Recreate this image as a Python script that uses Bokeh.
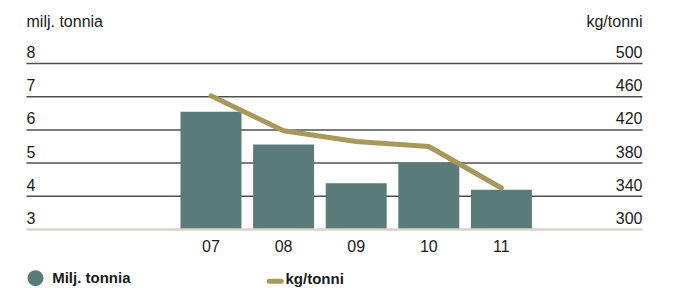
from bokeh.plotting import figure
from bokeh.models import Range1d
from bokeh.embed import file_html
from bokeh.resources import INLINE
from bokeh.core.properties import value

# ---- data ----
years = ["07", "08", "09", "10", "11"]
tonnes = [6.55, 5.56, 4.39, 5.0, 4.2]          # milj. tonnia (left axis)
kg_per_t = [461, 419, 406, 400, 350]            # kg/tonni (right axis)
left_ticks = [3, 4, 5, 6, 7, 8]
right_ticks = [300, 340, 380, 420, 460, 500]
left_title = "milj. tonnia"
right_title = "kg/tonni"
legend_bar = "Milj. tonnia"
legend_line = "kg/tonni"

# ---- layout (figure pixels) ----
W, H = 674, 288
X0_PX, X_STEP = 210.5, 72.6        # px of first category, px per category
Y3_PX, Y_UNIT = 229.0, 33.2        # px of value 3, px per unit
PLOT_L, PLOT_R = 26, 642
FS_N, FS_B = 16, 15
SHIFT_N = -0.37 * FS_N             # baseline correction for rendered text
SHIFT_B = -0.37 * FS_B

def px2x(fx):
    return (fx - X0_PX) / X_STEP

def px2y(fy):
    return left_ticks[0] + (Y3_PX - fy) / Y_UNIT

ymin, ymax = px2y(H), px2y(0)
k_scale = (right_ticks[-1] - right_ticks[0]) / (left_ticks[-1] - left_ticks[0])
kmin = right_ticks[0] + (ymin - left_ticks[0]) * k_scale
kmax = right_ticks[0] + (ymax - left_ticks[0]) * k_scale

BAR = "#5a7b7a"
GOLD = "#a8985c"
GRID = "#4f4f4f"
BASE = "#d8d3cd"
TXT = "#1a1a1a"
FONT = value("Liberation Sans")

p = figure(width=W, height=H, output_backend="svg", toolbar_location=None,
           x_range=Range1d(px2x(0), px2x(W)), y_range=Range1d(ymin, ymax),
           x_axis_type=None, y_axis_type=None, min_border=0,
           outline_line_color=None, border_fill_color="white")
p.extra_y_ranges = {"kg": Range1d(kmin, kmax)}
p.xgrid.visible = False
p.ygrid.visible = False

idx = list(range(len(years)))
xl, xr = px2x(PLOT_L), px2x(PLOT_R)

# gridlines (above baseline)
gt = left_ticks[1:]
p.segment(x0=[xl] * len(gt), x1=[xr] * len(gt), y0=gt, y1=gt,
          line_color=GRID, line_width=1.5)

# bars
p.vbar(x=idx, width=0.84, bottom=left_ticks[0], top=tonnes,
       fill_color=BAR, line_color=None)

# baseline
p.segment(x0=[xl], x1=[xr], y0=[left_ticks[0]], y1=[left_ticks[0]],
          line_color=BASE, line_width=2.5)

# line on right scale
p.line(x=idx, y=kg_per_t, y_range_name="kg", line_color=GOLD,
       line_width=5, line_cap="round", line_join="round")

common = dict(text_baseline="alphabetic", text_font=FONT,
              text_font_size=f"{FS_N}px", text_color=TXT)
bold = dict(text_baseline="alphabetic", text_font=FONT, text_font_style="bold",
            text_font_size=f"{FS_B}px", text_color=TXT)

# left tick labels
p.text(x=[xl] * len(left_ticks), y=left_ticks, text=[str(t) for t in left_ticks],
       text_align="left", y_offset=-5.5 + SHIFT_N, **common)
# right tick labels
p.text(x=[xr] * len(right_ticks), y=right_ticks, text=[str(t) for t in right_ticks],
       y_range_name="kg", text_align="right", y_offset=-5.5 + SHIFT_N, **common)
# headers
p.text(x=[xl], y=[px2y(26.5)], text=[left_title], text_align="left",
       y_offset=SHIFT_N, **common)
p.text(x=[xr], y=[px2y(26.5)], text=[right_title], text_align="right",
       y_offset=SHIFT_N, **common)
# category labels
p.text(x=idx, y=[left_ticks[0]] * len(idx), text=years, text_align="center",
       y_offset=22.5 + SHIFT_N, **common)

# legend
p.scatter(x=[px2x(35)], y=[px2y(277.7)], size=16, marker="circle",
          fill_color=BAR, line_color=None)
p.text(x=[px2x(51.7)], y=[px2y(282.7)], text=[legend_bar], text_align="left",
       y_offset=SHIFT_B, **bold)
p.segment(x0=[px2x(268.7)], x1=[px2x(280.7)], y0=[px2y(280.7)], y1=[px2y(280.7)],
          line_color=GOLD, line_width=5, line_cap="round")
p.text(x=[px2x(285)], y=[px2y(283.3)], text=[legend_line], text_align="left",
       y_offset=SHIFT_B, **bold)

open("out.html", "w").write(file_html(p, INLINE))
